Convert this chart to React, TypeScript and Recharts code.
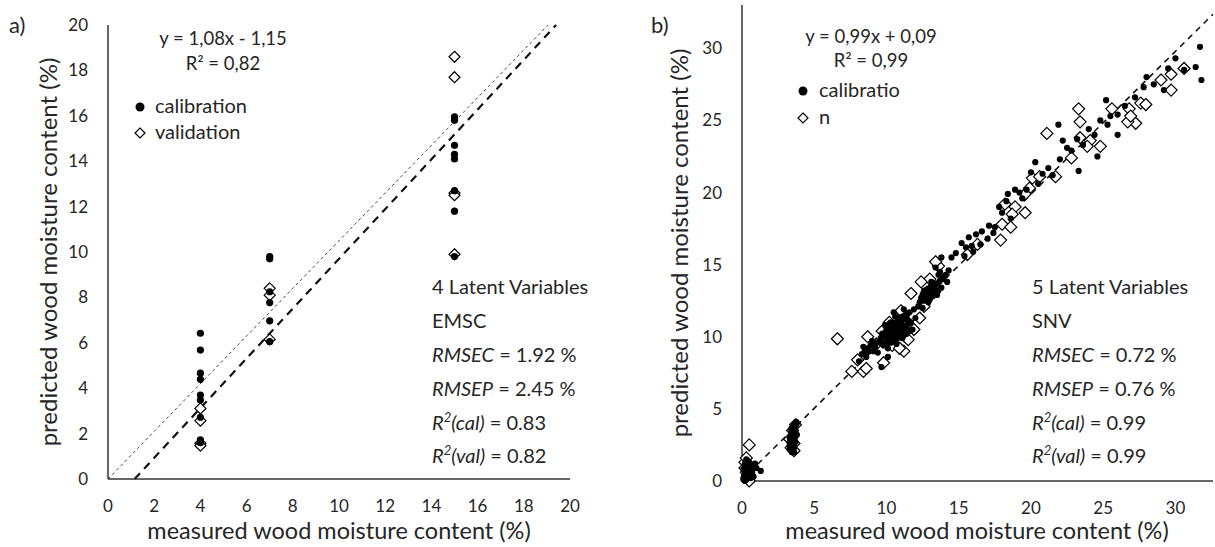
import React from "react";
import { ScatterChart, Scatter, XAxis, YAxis, ReferenceLine } from "recharts";

// panel a) – measured vs predicted (EMSC, 4 LV)
const calA: [number, number][] = [
  [4, 6.42], [4, 5.68], [4, 4.66], [4, 4.39], [4, 3.7], [4, 3.48], [4, 2.72], [4, 1.72], [4, 1.6],
  [7, 9.8], [7, 9.7], [7, 8.25], [7, 7.77], [7, 6.97], [7, 6.05],
  [15, 15.95], [15, 15.8], [15, 14.7], [15, 14.3], [15, 14.1], [15, 12.7], [15, 11.8], [15, 9.8],
];
const valA: [number, number][] = [
  [4, 3.11], [4, 2.57], [4, 1.57], [4, 1.47],
  [7, 8.4], [7, 8.1], [7, 6.15],
  [15, 18.6], [15, 17.7], [15, 12.6], [15, 12.5], [15, 9.9],
];
const identityA = [{ x: 0, y: 0 }, { x: 19.05, y: 20 }];
const trendA = [{ x: 1.15, y: 0 }, { x: 19.4, y: 20 }];
const ticksA = [0, 2, 4, 6, 8, 10, 12, 14, 16, 18, 20];
const statsA = ["4 Latent Variables", "EMSC", "1.92", "2.45", "0.83", "0.82"];

// panel b) – measured vs predicted (SNV, 5 LV)
const calB: [number, number][] = [
  [0.1, 0.2], [0.2, 0.5], [0.3, 0.9], [0.2, 1.2], [0.4, 1.4], [0.3, 0.1], [0.5, 0.4], [0.4, 0.7],
  [0.6, 1.0], [0.2, 0.0], [0.5, 1.3], [0.3, 1.5], [0.7, 0.6], [0.8, 0.3], [0.6, 0.2], [1.0, 0.9],
  [1.3, 0.7], [0.9, 1.2], [0.4, 0.3], [0.1, 0.8], [0.15, 0.4], [0.25, 0.7], [0.35, 1.1], [0.45, 0.9],
  [0.55, 0.6], [0.2, 1.0], [0.3, 1.3], [0.4, 0.5], [0.5, 0.8], [0.1, 0.1], [0.35, 0.3], [0.6, 0.5],
  [0.25, 0.2], [0.45, 1.2], [0.7, 0.9],
  [3.3, 2.2], [3.4, 2.5], [3.5, 2.8], [3.6, 3.1], [3.4, 3.3], [3.7, 3.5], [3.5, 3.7], [3.6, 3.9],
  [3.8, 4.0], [3.3, 3.0], [3.5, 2.4], [3.7, 2.7], [3.4, 3.6], [3.6, 2.3], [3.8, 3.2], [3.5, 3.4],
  [3.3, 2.7], [3.7, 3.8], [3.6, 2.0], [3.4, 2.1], [3.35, 2.35], [3.45, 2.6], [3.55, 2.9], [3.65, 3.3],
  [3.5, 3.1], [3.4, 2.9], [3.6, 3.6], [3.7, 3.1], [3.45, 3.45], [3.55, 3.8], [3.75, 4.1], [3.4, 2.4],
  [3.6, 2.5], [3.5, 2.2], [3.65, 2.8], [3.3, 2.5], [3.55, 3.25], [3.7, 4.0], [3.45, 2.0], [3.6, 3.7],
  [8.1, 8.3], [8.3, 8.8], [8.4, 9.3], [8.6, 8.6], [9.2, 9.3], [9.0, 9.7], [9.65, 7.9], [10.1, 8.6],
  [8.8, 9.0], [9.4, 8.9], [8.5, 9.0], [8.9, 9.4], [9.3, 9.6], [9.1, 9.0], [8.7, 9.2],
  [9.5, 9.6], [9.7, 10.2], [9.8, 9.4], [9.9, 10.8], [10.0, 10.0], [10.1, 9.2], [10.2, 10.5],
  [10.3, 11.0], [10.4, 9.8], [10.5, 10.3], [10.6, 11.4], [10.7, 9.5], [10.8, 10.7], [10.9, 10.1],
  [11.0, 11.1], [11.1, 9.9], [11.2, 10.6], [11.3, 11.5], [11.4, 10.2], [11.5, 10.9], [11.6, 11.7],
  [11.7, 11.0], [11.8, 10.5], [11.9, 11.9], [12.0, 11.3], [10.0, 10.6], [10.2, 9.6], [10.4, 10.9],
  [10.6, 10.0], [10.8, 11.3], [11.0, 10.4], [11.2, 11.9], [10.3, 10.2], [10.7, 10.5], [11.1, 10.8],
  [11.4, 11.3], [9.8, 10.0], [10.5, 11.7], [11.6, 10.4], [12.2, 12.1], [9.6, 9.9], [9.9, 10.3],
  [10.1, 10.7], [10.15, 9.9], [10.25, 10.3], [10.35, 9.6], [10.45, 10.6], [10.55, 10.9], [10.65, 10.2],
  [10.75, 9.9], [10.85, 10.4], [10.95, 10.9], [11.05, 10.0], [11.15, 10.5], [11.25, 11.2], [11.35, 10.7],
  [11.45, 11.6], [11.55, 11.1], [10.1, 10.2], [10.3, 10.6], [10.5, 9.9], [10.7, 11.0], [10.9, 10.6],
  [11.1, 11.4], [11.3, 10.3], [10.2, 10.9], [10.6, 10.6], [11.0, 10.7], [10.4, 10.3], [10.8, 10.2],
  [9.9, 9.6], [10.0, 9.4], [10.6, 9.7], [11.2, 10.1],
  [12.3, 12.4], [12.5, 12.0], [12.7, 12.8], [12.9, 13.3], [13.0, 12.6], [13.2, 13.1], [13.4, 13.6],
  [13.5, 12.9], [13.7, 13.9], [13.8, 13.4], [14.0, 14.2], [14.2, 13.8], [12.6, 13.2], [13.1, 13.8],
  [13.6, 14.3], [14.3, 14.6], [13.4, 14.8], [13.8, 15.5], [14.5, 15.5], [14.8, 15.8], [12.4, 12.7],
  [12.6, 12.5], [12.8, 13.0], [13.0, 13.2], [13.2, 12.8], [13.3, 13.4], [13.5, 13.7], [13.6, 13.2],
  [13.9, 14.0], [12.9, 12.4], [13.7, 14.5], [14.1, 14.3], [12.5, 12.9], [13.1, 13.5],
  [15.2, 16.5], [15.5, 16.2], [15.7, 16.9], [15.9, 16.3], [16.2, 17.1], [16.6, 17.3], [17.1, 17.7],
  [15.4, 15.6], [16.0, 15.9], [16.5, 16.4], [17.0, 16.8], [17.5, 17.6], [17.8, 19.0], [18.0, 18.6],
  [18.3, 19.4], [18.4, 19.9], [18.9, 20.2], [19.2, 20.0], [19.7, 20.2], [19.4, 19.6], [18.6, 18.2],
  [17.4, 17.2],
  [20.0, 21.4], [20.3, 22.1], [20.8, 21.3], [21.2, 21.7], [21.9, 24.7], [22.2, 23.6], [22.5, 23.1],
  [23.2, 23.7], [23.3, 21.5], [24.6, 22.5], [25.2, 26.4], [25.3, 24.7], [25.5, 25.3], [26.0, 25.4],
  [26.0, 24.0], [20.5, 20.6], [21.5, 21.2], [22.0, 22.3], [22.8, 22.9], [23.6, 23.3], [24.0, 24.4],
  [24.4, 24.0], [24.8, 25.0],
  [27.8, 27.3], [28.5, 27.5], [29.2, 27.1], [31.4, 28.7], [31.8, 27.8], [31.7, 30.1], [26.5, 26.0],
  [27.2, 26.6], [28.0, 28.0], [29.5, 28.6], [30.0, 29.3], [30.6, 28.5],
];
const valB: [number, number][] = [
  [0.5, 2.5], [0.2, 1.3], [0.3, 0.6], [0.4, 0.2], [0.6, 1.0], [0.2, 0.9], [0.5, 0.0], [0.3, 1.6],
  [3.4, 2.3], [3.6, 2.6], [3.5, 3.5], [3.7, 3.9], [3.3, 2.9], [3.6, 2.1],
  [6.6, 9.86], [8.0, 8.4], [8.4, 7.6], [8.6, 7.8], [7.6, 7.6], [8.7, 10.0], [9.8, 8.2], [11.2, 9.0],
  [9.3, 9.5], [10.0, 9.7], [10.4, 9.4], [10.9, 9.2], [11.5, 9.8], [11.9, 10.5], [10.2, 11.0],
  [9.7, 10.4], [11.0, 11.8], [12.3, 11.3], [12.6, 12.1], [12.8, 13.1], [13.3, 13.5], [13.0, 14.0],
  [13.6, 14.9], [13.4, 15.2], [12.4, 13.8], [11.7, 13.0],
  [15.6, 15.7], [16.3, 16.4], [17.9, 16.7], [18.0, 17.8], [18.6, 17.6], [18.2, 19.2], [18.9, 19.0],
  [19.6, 18.6], [18.7, 18.5], [19.9, 20.3], [19.6, 19.9], [20.1, 21.0], [20.6, 21.1], [21.7, 21.1],
  [22.8, 22.4], [23.4, 23.8], [24.1, 23.6], [24.8, 23.2], [23.9, 23.2], [23.3, 25.8], [23.4, 24.9],
  [21.1, 24.1], [25.6, 25.8],
  [26.8, 25.8], [27.6, 26.2], [27.95, 26.1], [27.25, 24.8], [26.7, 24.9], [29.7, 28.2], [29.7, 27.1],
  [29.0, 27.8], [30.6, 28.6], [26.9, 25.3],
];
const trendB = [{ x: 0, y: 0.09 }, { x: 32.6, y: 32.36 }];
const ticksB = [0, 5, 10, 15, 20, 25, 30];
const statsB = ["5 Latent Variables", "SNV", "0.72", "0.76", "0.99", "0.99"];

const toPts = (a: [number, number][]) => a.map(([x, y]) => ({ x, y }));

const FONT = "Lato, 'Open Sans', sans-serif";
const INK = "#262626";
const AXIS = "#333";

const dot = (r: number) => (p: any) => <circle cx={p.cx} cy={p.cy} r={r} fill="#000" />;
const diamond = (h: number) => (p: any) => (
  <polygon
    points={`${p.cx},${p.cy - h} ${p.cx + h},${p.cy} ${p.cx},${p.cy + h} ${p.cx - h},${p.cy}`}
    fill="#fff"
    stroke="#000"
    strokeWidth={1.2}
  />
);

const tick = { fontSize: 17, fill: INK, fontFamily: FONT };

function Stats({ x, lines }: { x: number; lines: string[] }) {
  const base = [294, 328, 362, 396, 430, 463];
  return (
    <text fontSize={20} fill={INK} fontFamily={FONT}>
      <tspan x={x} y={base[0]}>{lines[0]}</tspan>
      <tspan x={x} y={base[1]}>{lines[1]}</tspan>
      <tspan x={x} y={base[2]} fontStyle="italic">RMSEC</tspan>
      <tspan>{` = ${lines[2]} %`}</tspan>
      <tspan x={x} y={base[3]} fontStyle="italic">RMSEP</tspan>
      <tspan>{` = ${lines[3]} %`}</tspan>
      <tspan x={x} y={base[4]} fontStyle="italic">R</tspan>
      <tspan fontStyle="italic" fontSize={13} dy={-8}>2</tspan>
      <tspan fontStyle="italic" dy={8}>(cal)</tspan>
      <tspan>{` = ${lines[4]}`}</tspan>
      <tspan x={x} y={base[5]} fontStyle="italic">R</tspan>
      <tspan fontStyle="italic" fontSize={13} dy={-8}>2</tspan>
      <tspan fontStyle="italic" dy={8}>(val)</tspan>
      <tspan>{` = ${lines[5]}`}</tspan>
    </text>
  );
}

export default function App() {
  return (
    <div style={{ position: "absolute", left: 0, top: 0, width: 1215, height: 547, background: "#fff", fontFamily: FONT }}>
      <div style={{ position: "absolute", left: 0, top: 0 }}>
        <ScatterChart width={600} height={547} margin={{ top: 25, right: 30, bottom: 28, left: 48 }}>
          <XAxis
            type="number"
            dataKey="x"
            domain={[0, 20]}
            ticks={ticksA}
            tickLine={false}
            tickSize={0}
            tickMargin={21}
            height={40}
            axisLine={{ stroke: AXIS, strokeWidth: 1.5 }}
            tick={tick}
          />
          <YAxis
            type="number"
            dataKey="y"
            domain={[0, 20]}
            ticks={ticksA}
            tickLine={false}
            tickSize={0}
            tickMargin={20}
            width={60}
            axisLine={{ stroke: AXIS, strokeWidth: 1.5 }}
            tick={tick}
          />
          <ReferenceLine segment={identityA} stroke="#444" strokeWidth={1} strokeDasharray="3 3" />
          <ReferenceLine segment={trendA} stroke="#111" strokeWidth={2.2} strokeDasharray="8 6" />
          <Scatter data={toPts(valA)} shape={diamond(5.5)} isAnimationActive={false} />
          <Scatter data={toPts(calA)} shape={dot(3.6)} isAnimationActive={false} />
        </ScatterChart>
      </div>
      <div style={{ position: "absolute", left: 615, top: 0 }}>
        <ScatterChart width={600} height={547} margin={{ top: 5, right: 2, bottom: 26, left: 67 }}>
          <XAxis
            type="number"
            dataKey="x"
            domain={[0, 32.6]}
            ticks={ticksB}
            tickLine={false}
            tickSize={0}
            tickMargin={21}
            height={40}
            axisLine={{ stroke: AXIS, strokeWidth: 1.5 }}
            tick={tick}
          />
          <YAxis
            type="number"
            dataKey="y"
            domain={[0, 33]}
            ticks={ticksB}
            tickLine={false}
            tickSize={0}
            tickMargin={20}
            width={60}
            axisLine={{ stroke: AXIS, strokeWidth: 1.5 }}
            tick={tick}
          />
          <Scatter data={toPts(valB)} shape={diamond(6)} isAnimationActive={false} />
          <Scatter data={toPts(calB)} shape={dot(3.1)} isAnimationActive={false} />
          <ReferenceLine segment={trendB} stroke="#111" strokeWidth={1.6} strokeDasharray="6 5" />
        </ScatterChart>
      </div>
      <svg width={1215} height={547} style={{ position: "absolute", left: 0, top: 0, pointerEvents: "none" }}>
        <g fontFamily={FONT} fill={INK}>
          <text x={9} y={33} fontSize={22}>a)</text>
          <text x={651} y={33} fontSize={22}>b)</text>

          <text x={223} y={45} fontSize={18.5} textAnchor="middle">y = 1,08x - 1,15</text>
          <text x={223} y={70} fontSize={18.5} textAnchor="middle">R² = 0,82</text>
          <circle cx={140} cy={107} r={4.5} fill="#000" />
          <text x={155} y={113} fontSize={20}>calibration</text>
          <polygon points="140,128 145,133 140,138 135,133" fill="#fff" stroke="#000" strokeWidth={1.2} />
          <text x={155} y={139} fontSize={20}>validation</text>

          <text x={871} y={43} fontSize={18.5} textAnchor="middle">y = 0,99x + 0,09</text>
          <text x={871} y={67} fontSize={18.5} textAnchor="middle">R² = 0,99</text>
          <circle cx={803} cy={91} r={4.5} fill="#000" />
          <text x={819} y={97} fontSize={20}>calibratio</text>
          <polygon points="803,113 808,118 803,123 798,118" fill="#fff" stroke="#000" strokeWidth={1.2} />
          <text x={819} y={124} fontSize={20}>n</text>

          <Stats x={432} lines={statsA} />
          <Stats x={1032} lines={statsB} />

          <text x={339} y={539} fontSize={23.5} textAnchor="middle">measured wood moisture content (%)</text>
          <text x={977} y={539} fontSize={23.5} textAnchor="middle">measured wood moisture content (%)</text>
          <text transform="translate(57,252) rotate(-90)" fontSize={24} textAnchor="middle">
            predicted wood moisture content (%)
          </text>
          <text transform="translate(688,243) rotate(-90)" fontSize={24} textAnchor="middle">
            predicted wood moisture content (%)
          </text>
        </g>
      </svg>
    </div>
  );
}
